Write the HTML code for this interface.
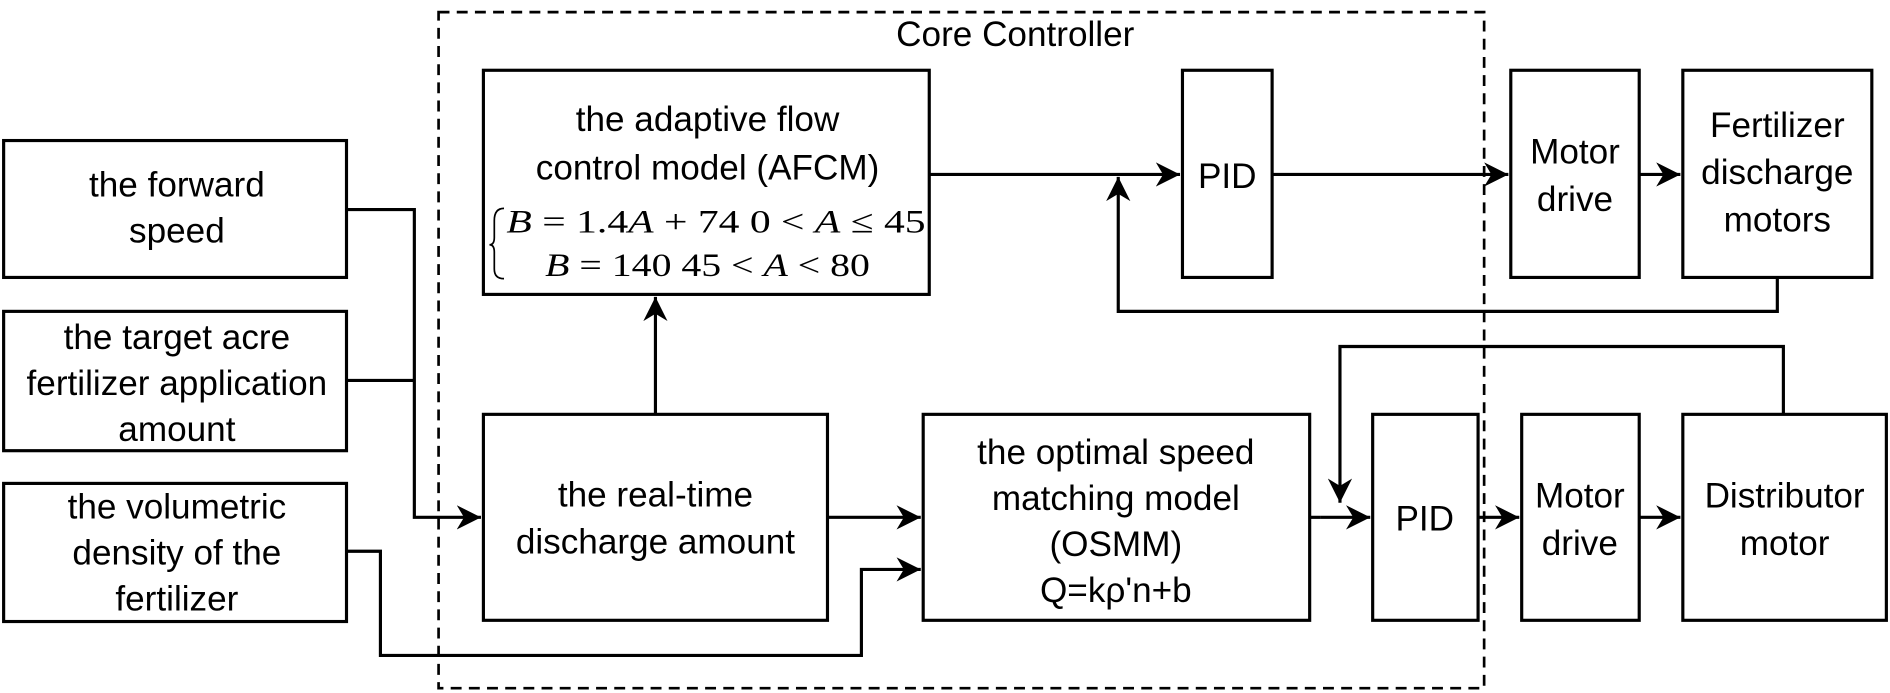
<!DOCTYPE html>
<html><head><style>
body{margin:0;background:#fff;}
svg text{font-family:"Liberation Sans",Arial,sans-serif;font-size:29px;fill:#000;text-anchor:middle;}
.m{font-family:"Liberation Serif","DejaVu Serif",serif;font-size:27px;text-anchor:start;}
</style></head><body>
<svg width="1890" height="693" viewBox="0 0 1560 572" preserveAspectRatio="none" xmlns="http://www.w3.org/2000/svg" style="display:block">
<defs><marker id="b" markerWidth="22" markerHeight="20" refX="20" refY="10" orient="auto" markerUnits="userSpaceOnUse"><path d="M0,0 L20,10 L0,20 L6,10 Z" fill="#000"/></marker></defs>
<g fill="none" stroke="#000" stroke-width="2.6">
<rect x="362" y="10" width="863" height="558" stroke-dasharray="9,6" stroke-width="2.2"/>
<rect x="3" y="116" width="283" height="113"/>
<rect x="3" y="257" width="283" height="115"/>
<rect x="3" y="399" width="283" height="114"/>
<rect x="399" y="58" width="368" height="185"/>
<rect x="976" y="58" width="74" height="171"/>
<rect x="1247" y="58" width="106" height="171"/>
<rect x="1389" y="58" width="156" height="171"/>
<rect x="399" y="342" width="284" height="170"/>
<rect x="762" y="342" width="319" height="170"/>
<rect x="1133" y="342" width="87" height="170"/>
<rect x="1256" y="342" width="97" height="170"/>
<rect x="1389" y="342" width="168" height="170"/>
<g marker-end="url(#b)">
<path d="M286,173 H342 V427 H397"/>
<path d="M683,427 H760"/>
<path d="M286,455 H314 V541 H711 V470 H760"/>
<path d="M541,342 V245"/>
<path d="M767,144 H974"/>
<path d="M1467,229 V257 H923 V146"/>
<path d="M1050,144 H1245"/>
<path d="M1353,144 H1387"/>
<path d="M1090,427 H1131"/>
<path d="M1472,342 V286 H1106 V415"/>
<path d="M1220,427 H1254"/>
<path d="M1353,427 H1387"/>
</g>
<path d="M286,314 H342"/>
<path d="M1081,427 H1090"/>
<path d="M416,172 Q408,172 408,182 V196 Q408,202 404,202 Q408,202 408,208 V222 Q408,230 416,230" stroke-width="1.4"/>
</g>
<text x="838" y="38">Core Controller</text>
<text x="146" y="162">the forward</text><text x="146" y="200">speed</text>
<text x="146" y="288">the target acre</text><text x="146" y="326">fertilizer application</text><text x="146" y="364">amount</text>
<text x="146" y="428">the volumetric</text><text x="146" y="466">density of the</text><text x="146" y="504">fertilizer</text>
<text x="584" y="108">the adaptive flow</text><text x="584" y="148">control model (AFCM)</text>
<text class="m" x="418" y="192" textLength="346" lengthAdjust="spacingAndGlyphs"><tspan font-style="italic">B</tspan> = 1.4<tspan font-style="italic">A</tspan> + 74    0 &lt; <tspan font-style="italic">A</tspan> ≤ 45</text>
<text class="m" x="450" y="228" textLength="268" lengthAdjust="spacingAndGlyphs"><tspan font-style="italic">B</tspan> = 140    45 &lt; <tspan font-style="italic">A</tspan> &lt; 80</text>
<text x="1013" y="155">PID</text>
<text x="1300" y="135">Motor</text><text x="1300" y="174">drive</text>
<text x="1467" y="113">Fertilizer</text><text x="1467" y="152">discharge</text><text x="1467" y="191">motors</text>
<text x="541" y="418">the real-time</text><text x="541" y="457">discharge amount</text>
<text x="921" y="383">the optimal speed</text><text x="921" y="421">matching model</text><text x="921" y="459">(OSMM)</text><text x="921" y="497">Q=kρ'n+b</text>
<text x="1176" y="438">PID</text>
<text x="1304" y="419">Motor</text><text x="1304" y="458">drive</text>
<text x="1473" y="419">Distributor</text><text x="1473" y="458">motor</text>
</svg>
</body></html>
